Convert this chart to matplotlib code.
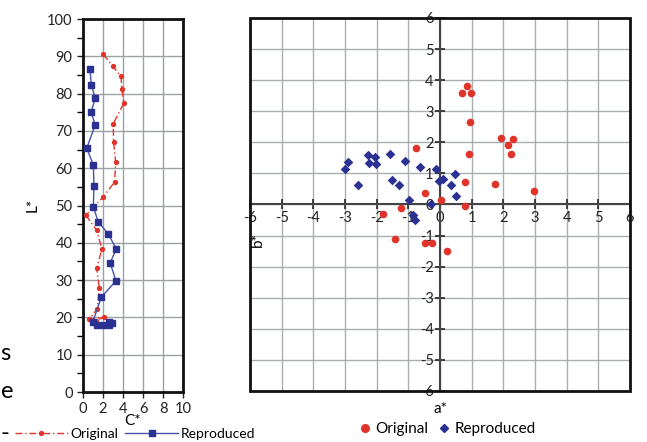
import matplotlib.pyplot as plt
from matplotlib.lines import Line2D
from matplotlib.patches import Rectangle

plt.rcParams["font.family"] = ["Lato", "DejaVu Sans"]
plt.rcParams["axes.unicode_minus"] = False

RED = "#e0342b"
BLUE = "#2b3191"
GRID = "#9ba1a5"

# L* profile (C*, L*)
orig_c = [2.03, 2.96, 3.79, 3.89, 4.09, 3.02, 3.06, 3.26, 3.16, 2.03, 0.28,
          1.36, 1.89, 1.36, 1.63, 1.43, 0.62, 2.05, 1.30]
orig_l = [90.5, 87.4, 84.6, 81.2, 77.5, 71.9, 66.9, 61.7, 56.3, 52.3, 47.4,
          43.4, 38.3, 33.2, 28.0, 22.3, 19.5, 20.1, 19.1]
repr_c = [0.70, 0.83, 1.23, 0.80, 1.23, 0.37, 1.03, 1.10, 1.03, 1.53, 2.52,
          3.32, 2.72, 3.29, 1.83, 0.96, 1.40, 2.00, 2.60, 2.90, 2.55]
repr_l = [86.5, 82.2, 78.8, 75.0, 71.6, 65.4, 60.9, 55.3, 49.6, 45.6, 42.4,
          38.4, 34.6, 29.8, 25.4, 18.7, 17.9, 17.9, 17.9, 18.6, 18.8]

# a*, b* scatter
orig_a = [0.69, 0.85, 0.99, 0.96, 1.93, 2.29, 2.16, 2.23, 0.92, -0.75, 0.80,
          1.75, 2.97, -0.48, 0.02, 0.79, -1.24, -1.81, -1.42, -0.48, -0.25, 0.23]
orig_b = [3.58, 3.82, 3.58, 2.64, 2.13, 2.12, 1.92, 1.61, 1.61, 1.82, 0.72,
          0.65, 0.43, 0.37, 0.14, -0.05, -0.11, -0.30, -1.11, -1.25, -1.23, -1.50]
repr_a = [-3.00, -2.90, -2.58, -2.26, -2.24, -2.06, -2.03, -1.57, -1.52, -1.28,
          -1.12, -0.64, -0.13, -0.97, -0.28, -0.04, 0.08, 0.47, 0.35, 0.49,
          -0.86, -0.78]
repr_b = [1.13, 1.36, 0.64, 1.59, 1.32, 1.54, 1.30, 1.64, 0.79, 0.62,
          1.39, 1.22, 1.13, 0.15, 0.03, 0.74, 0.81, 0.99, 0.62, 0.27,
          -0.33, -0.50]

fig = plt.figure(figsize=(6.47, 4.42), dpi=100)

# ---- left panel: L* vs C*
ax1 = fig.add_axes([0.1283, 0.1131, 0.1546, 0.8439])
ax1.plot(orig_c, orig_l, color=RED, lw=1.0, dashes=(5, 2, 1, 2),
         marker="o", ms=2.8, zorder=3)
ax1.plot(repr_c, repr_l, color="#4a52a8", lw=1.0, marker="s", ms=4.5,
         mfc=BLUE, mec=BLUE, zorder=3)
ax1.set_xlim(0, 10)
ax1.set_ylim(0, 100)
ax1.set_xticks([0, 2, 4, 6, 8, 10])
ax1.set_yticks(range(0, 101, 10))
ax1.set_yticks(range(5, 100, 10), minor=True)
ax1.grid(True, color=GRID, lw=1.0)
ax1.tick_params(labelsize=10.5, colors="#222222", length=4, width=1)
ax1.tick_params(which="minor", length=4, width=1)
for s in ax1.spines.values():
    s.set_linewidth(2)
    s.set_color("#111111")
fig.text(33 / 647, 1 - 205 / 442, "L*", rotation=90, ha="center", va="center", fontsize=11)
fig.text(133 / 647, 1 - 421 / 442, "C*", ha="center", va="center", fontsize=11)

left_handles = [
    Line2D([], [], color=RED, lw=1.0, dashes=(5, 2, 1, 2), marker="o", ms=2.8),
    Line2D([], [], color="#4a52a8", lw=1.0, marker="s", ms=4.5, mfc=BLUE, mec=BLUE),
]
fig.legend(left_handles, ["Original", "Reproduced"], loc="center",
           bbox_to_anchor=(135 / 647, 1 - 434 / 442), ncol=2, frameon=False,
           fontsize=10, handlelength=3.8, handletextpad=0.2, columnspacing=0.5,
           borderaxespad=0, borderpad=0)

# fragments of neighbouring text at the left edge
fig.text(0.5 / 647, 1 - 354 / 442, "s", ha="left", va="center", fontsize=17)
fig.text(0.5 / 647, 1 - 391 / 442, "e", ha="left", va="center", fontsize=17)
fig.text(0.5 / 647, 1 - 433 / 442, "-", ha="left", va="center", fontsize=17)

# ---- right panel: a*, b*
ax2 = fig.add_axes([0.3864, 0.1154, 0.5873, 0.8439])
ax2.scatter(orig_a, orig_b, color=RED, marker="o", s=30, zorder=3, linewidths=0)
ax2.scatter(repr_a, repr_b, color=BLUE, marker="D", s=24, zorder=3, linewidths=0)
ax2.set_xlim(-6, 6)
ax2.set_ylim(-6, 6)
ticks = list(range(-6, 7))
ax2.set_xticks(ticks)
ax2.set_yticks(ticks)
ax2.grid(True, color="#a9aeb2", lw=1.0)
ax2.spines["left"].set_position(("data", 0))
ax2.spines["bottom"].set_position(("data", 0))
ax2.spines["top"].set_visible(False)
ax2.spines["right"].set_visible(False)
for s in ("left", "bottom"):
    ax2.spines[s].set_color("#444444")
    ax2.spines[s].set_linewidth(1.5)
ax2.tick_params(direction="inout", length=7, width=1.2, labelsize=10.5,
                colors="#222222", pad=1)
ax2.add_patch(Rectangle((0, 0), 1, 1, transform=ax2.transAxes, fill=False,
                        lw=2, edgecolor="#111111", zorder=5, clip_on=False))
fig.text(258 / 647, 1 - 240 / 442, "b*", rotation=90, ha="center", va="center", fontsize=11)
fig.text(440 / 647, 1 - 409 / 442, "a*", ha="center", va="center", fontsize=11)

right_handles = [
    Line2D([], [], ls="none", marker="o", color=RED, ms=5.5),
    Line2D([], [], ls="none", marker="D", color=BLUE, ms=4.5),
]
fig.legend(right_handles, ["Original", "Reproduced"], loc="center",
           bbox_to_anchor=(447 / 647, 1 - 429 / 442), ncol=2, frameon=False,
           fontsize=11, handlelength=0.8, handletextpad=0.3, columnspacing=0.6,
           borderaxespad=0, borderpad=0)

fig.savefig("out.png", dpi=100, facecolor="white")
